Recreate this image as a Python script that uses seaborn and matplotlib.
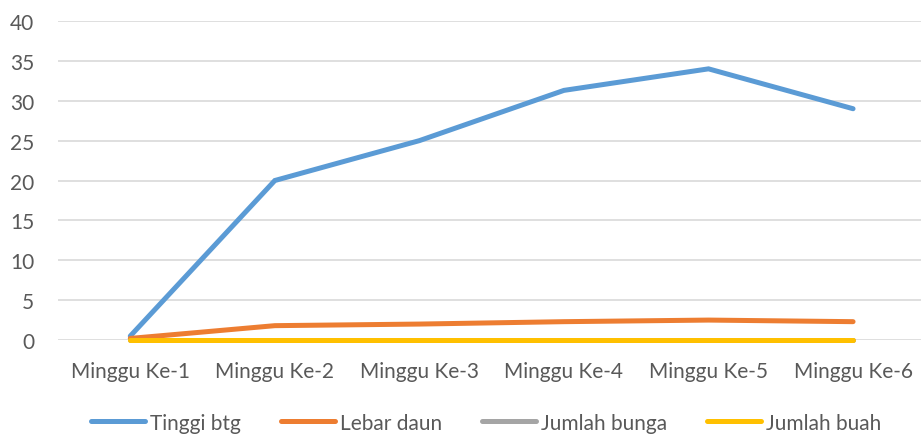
import matplotlib
matplotlib.use("Agg")
import matplotlib.pyplot as plt
import seaborn as sns
import pandas as pd

weeks = ["Minggu Ke-1", "Minggu Ke-2", "Minggu Ke-3", "Minggu Ke-4", "Minggu Ke-5", "Minggu Ke-6"]
tinggi_btg = [0.5, 20, 25, 31.3, 34, 29]
lebar_daun = [0.2, 1.8, 2.0, 2.3, 2.5, 2.3]
jumlah_bunga = [0, 0, 0, 0, 0, 0]
jumlah_buah = [0, 0, 0, 0, 0, 0]
series_names = ["Tinggi btg", "Lebar daun", "Jumlah bunga", "Jumlah buah"]
colors = ["#5B9BD5", "#ED7D31", "#A5A5A5", "#FFC000"]
y_ticks = [0, 5, 10, 15, 20, 25, 30, 35, 40]

rows = []
for name, vals in zip(series_names, [tinggi_btg, lebar_daun, jumlah_bunga, jumlah_buah]):
    for i, v in enumerate(vals):
        rows.append({"pos": i, "value": v, "series": name})
df = pd.DataFrame(rows)

sns.set_theme(style="white")
plt.rcParams["font.family"] = ["Lato", "DejaVu Sans"]

fig = plt.figure(figsize=(9.21, 4.39), dpi=100)
ax = fig.add_axes([0.063, 0.2232, 0.937, 0.7267])

sns.lineplot(data=df, x="pos", y="value", hue="series", hue_order=series_names,
             palette=colors, linewidth=3.6, ax=ax, legend=False,
             solid_capstyle="round", solid_joinstyle="miter")
for line in ax.get_lines():
    line.set_clip_on(False)

ax.set_xlim(-0.5, 5.47)
ax.set_ylim(0, 40)
ax.set_yticks(y_ticks)
ax.set_xticks(range(len(weeks)))
ax.set_xticklabels(weeks)
ax.set_xlabel("")
ax.set_ylabel("")
ax.yaxis.grid(True, color="#D9D9D9", linewidth=1.2)
ax.set_axisbelow(True)
for s in ax.spines.values():
    s.set_visible(False)
ax.tick_params(axis="both", length=0, labelsize=15, colors="#595959")
ax.tick_params(axis="y", pad=17)
ax.tick_params(axis="x", pad=15)

handles = [plt.Line2D([], [], color=c, linewidth=3.6, solid_capstyle="round") for c in colors]
fig.legend(handles, series_names, loc="center", bbox_to_anchor=(0.528, 0.035),
           ncol=4, frameon=False, fontsize=15, handlelength=2.6, handletextpad=0.25,
           columnspacing=1.9, labelcolor="#595959")

fig.savefig("out.png", dpi=100)
